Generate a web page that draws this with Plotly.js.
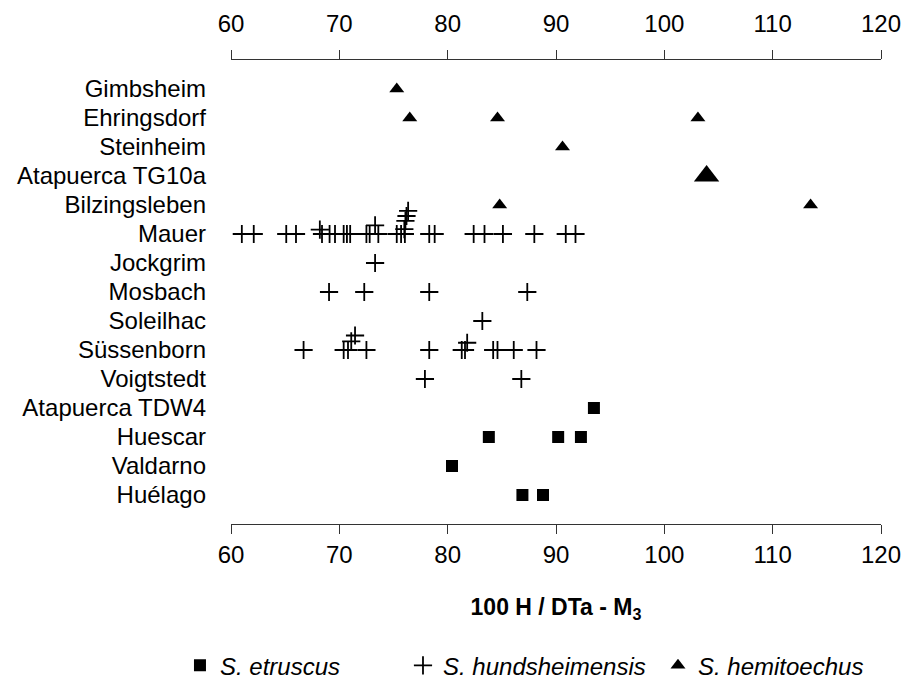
<!DOCTYPE html>
<html><head><meta charset="utf-8">
<script src="https://cdn.plot.ly/plotly-3.0.1.min.js"></script>
<style>body{margin:0;background:#fff}#chart{width:904px;height:687px}</style>
</head><body><div id="chart"></div>
<script>
// Sites from top to bottom
const sites = ['Gimbsheim','Ehringsdorf','Steinheim','Atapuerca TG10a','Bilzingsleben','Mauer','Jockgrim','Mosbach','Soleilhac','Süssenborn','Voigtstedt','Atapuerca TDW4','Huescar','Valdarno','Huélago'];
const xTicks = [60, 70, 80, 90, 100, 110, 120];
const xRange = [60, 120];

// S. hemitoechus
const hemSites  = ['Gimbsheim','Ehringsdorf','Ehringsdorf','Ehringsdorf','Steinheim','Atapuerca TG10a','Bilzingsleben','Bilzingsleben'];
const hemValues = [75.3, 76.5, 84.6, 103.1, 90.6, 103.9, 84.8, 113.5];

// S. hundsheimensis (hunStack: vertical offset, in rows, of overlapping values)
const hunSites = [
  'Mauer','Mauer','Mauer','Mauer','Mauer','Mauer','Mauer','Mauer','Mauer','Mauer',
  'Mauer','Mauer','Mauer','Mauer','Mauer','Mauer','Mauer','Mauer','Mauer','Mauer',
  'Mauer','Mauer','Mauer','Mauer','Mauer','Mauer','Mauer','Mauer','Mauer','Mauer',
  'Jockgrim',
  'Mosbach','Mosbach','Mosbach','Mosbach',
  'Soleilhac',
  'Süssenborn','Süssenborn','Süssenborn','Süssenborn','Süssenborn','Süssenborn','Süssenborn',
  'Süssenborn','Süssenborn','Süssenborn','Süssenborn','Süssenborn','Süssenborn','Süssenborn',
  'Voigtstedt','Voigtstedt'];
const hunValues = [
  61.0, 62.1, 65.1, 66.0, 68.2, 68.4, 69.1, 69.6, 70.4, 70.7,
  71.0, 72.5, 72.8, 73.3, 73.6, 75.3, 75.7, 76.0, 76.1, 76.2,
  76.35, 78.3, 78.8, 82.4, 83.4, 85.1, 88.0, 90.9, 91.8, 76.05,
  73.3,
  69.05, 72.3, 78.3, 87.35,
  83.2,
  66.7, 70.4, 70.8, 71.1, 71.45, 72.5, 78.3,
  81.3, 81.6, 81.8, 84.2, 84.6, 86.1, 88.2,
  77.9, 86.8];
const hunStack = [
  0, 0, 0, 0, 0.15, 0, 0, 0, 0, 0,
  0, 0, 0, 0.3, 0, 0, 0, 0.17, 0.45, 0.62,
  0.8, 0, 0, 0, 0, 0, 0, 0, 0, 0,
  0,
  0, 0, 0, 0,
  0,
  0, 0, 0, 0.3, 0.5, 0, 0,
  0, 0, 0.25, 0, 0, 0, 0,
  0, 0];

// S. etruscus
const etrSites  = ['Atapuerca TDW4','Huescar','Huescar','Huescar','Valdarno','Huélago','Huélago'];
const etrValues = [93.5, 83.8, 90.2, 92.3, 80.4, 86.9, 88.8];

const rowOf = s => sites.length - sites.indexOf(s);
const FONT = 'Liberation Sans, Arial, sans-serif';
const bigSite = 'Atapuerca TG10a';

const traces = [
  {
    type: 'scatter', mode: 'markers', name: 'S. etruscus', legend: 'legend',
    x: etrValues, y: etrSites.map(rowOf), xaxis: 'x', yaxis: 'y',
    marker: {symbol: 'square', size: 12, color: '#000', line: {width: 0}}
  },
  {
    type: 'scatter', mode: 'markers', name: 'S. hundsheimensis', legend: 'legend2',
    x: hunValues, y: hunSites.map((s, i) => rowOf(s) + hunStack[i]), xaxis: 'x', yaxis: 'y',
    marker: {symbol: 'cross-thin', size: 13, color: '#000', line: {width: 1.8, color: '#000'}}
  },
  {
    type: 'scatter', mode: 'markers', name: 'S. hemitoechus', legend: 'legend3',
    x: hemValues.filter((v, i) => hemSites[i] !== bigSite),
    y: hemSites.filter(s => s !== bigSite).map(rowOf), xaxis: 'x', yaxis: 'y',
    marker: {symbol: 'triangle-up', size: 13, color: '#000', line: {width: 0}}
  },
  {
    type: 'scatter', mode: 'markers', name: 'S. hemitoechus', showlegend: false,
    x: hemValues.filter((v, i) => hemSites[i] === bigSite),
    y: hemSites.filter(s => s === bigSite).map(rowOf), xaxis: 'x', yaxis: 'y',
    marker: {symbol: 'triangle-up', size: 22, color: '#000', line: {width: 0}}
  },
  {
    // carrier for the top axis (no visible marks)
    type: 'scatter', mode: 'markers', showlegend: false, hoverinfo: 'skip',
    x: xRange, y: [null, null], xaxis: 'x2', yaxis: 'y',
    marker: {opacity: 0}
  }
];

const xCommon = {
  range: xRange, tickvals: xTicks, ticktext: xTicks.map(String),
  showline: true, linecolor: '#333', linewidth: 1,
  ticks: 'outside', ticklen: 9, tickwidth: 1, tickcolor: '#333',
  showgrid: false, zeroline: false, fixedrange: true, automargin: false,
  tickfont: {family: FONT, size: 24, color: '#000'}
};

const legendCommon = {
  orientation: 'h', yanchor: 'middle', xanchor: 'left',
  yref: 'container', y: 0.031,
  font: {family: FONT, size: 24, color: '#000', style: 'italic'},
  bgcolor: 'rgba(0,0,0,0)', borderwidth: 0
};

const layout = {
  width: 904, height: 687,
  margin: {l: 231, r: 23, t: 60, b: 163, pad: 0},
  paper_bgcolor: '#fff', plot_bgcolor: '#fff',
  font: {family: FONT, size: 24, color: '#000'},
  xaxis: Object.assign({}, xCommon, {
    side: 'bottom', anchor: 'y',
    title: {text: '<b>100 H / DTa - M<sub>3</sub></b>', font: {family: FONT, size: 23, color: '#000'}, standoff: 32}
  }),
  xaxis2: Object.assign({}, xCommon, {side: 'top', overlaying: 'x', anchor: 'y', ticklabelstandoff: 8}),
  yaxis: {
    range: [0, 16], tickvals: sites.map(rowOf), ticktext: sites,
    showline: false, ticks: '', showgrid: false, zeroline: false, fixedrange: true,
    automargin: false, ticklabelstandoff: 24,
    tickfont: {family: FONT, size: 24, color: '#000'}
  },
  legend: Object.assign({}, legendCommon, {x: -0.0785}),
  legend2: Object.assign({}, legendCommon, {x: 0.2646}),
  legend3: Object.assign({}, legendCommon, {x: 0.6569}),
  showlegend: true
};

Plotly.newPlot('chart', traces, layout, {staticPlot: true, displayModeBar: false});
</script>
</body></html>
